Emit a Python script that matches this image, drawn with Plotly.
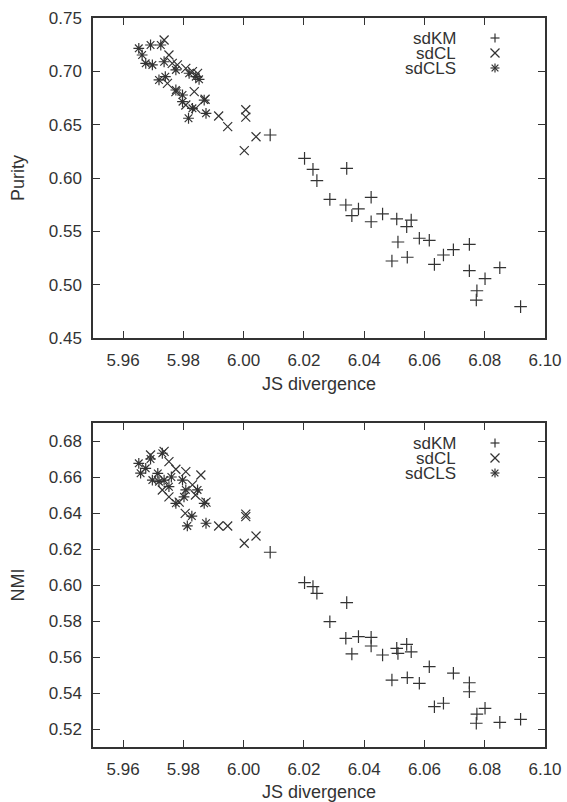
import plotly.graph_objects as go

# ---------------- data ----------------
km_js = [6.0088, 6.0202, 6.0230, 6.0243, 6.0342, 6.0286, 6.0339, 6.0381, 6.0359, 6.0423,
         6.0461, 6.0423, 6.0508, 6.0512, 6.0556, 6.0541, 6.0583, 6.0616, 6.0492, 6.0543,
         6.0633, 6.0663, 6.0696, 6.0749, 6.0749, 6.0801, 6.0850, 6.0774, 6.0772, 6.0919]
km_purity = [0.6403, 0.6184, 0.6081, 0.5975, 0.6090, 0.5800, 0.5747, 0.5710, 0.5647, 0.5819,
             0.5663, 0.5590, 0.5616, 0.5400, 0.5606, 0.5544, 0.5435, 0.5416, 0.5222, 0.5257,
             0.5190, 0.5278, 0.5328, 0.5378, 0.5131, 0.5056, 0.5159, 0.4943, 0.4856, 0.4794]
km_nmi = [0.6182, 0.6013, 0.5991, 0.5954, 0.5902, 0.5796, 0.5704, 0.5713, 0.5617, 0.5709,
          0.5611, 0.5661, 0.5648, 0.5620, 0.5629, 0.5670, 0.5454, 0.5546, 0.5472, 0.5485,
          0.5324, 0.5343, 0.5510, 0.5457, 0.5407, 0.5315, 0.5237, 0.5283, 0.5232, 0.5254]

cl_js_p = [5.9736, 5.9752, 5.9763, 5.9780, 5.9808, 5.9830, 5.9847, 5.9747, 5.9775, 5.9836,
           5.9808, 5.9841, 5.9872, 5.9917, 5.9947, 6.0041, 6.0002, 6.0007, 6.0007]
cl_purity = [0.7294, 0.7153, 0.7075, 0.7060, 0.7028, 0.6997, 0.6981, 0.6887, 0.6810, 0.6810,
             0.6684, 0.6653, 0.6738, 0.6581, 0.6481, 0.6387, 0.6256, 0.6640, 0.6570]

cls_js_p = [5.9652, 5.9691, 5.9725, 5.9663, 5.9675, 5.9697, 5.9736, 5.9775, 5.9819, 5.9841,
            5.9852, 5.9719, 5.9740, 5.9775, 5.9797, 5.9797, 5.9830, 5.9869, 5.9817, 5.9875]
cls_purity = [0.7216, 0.7247, 0.7247, 0.7153, 0.7075, 0.7060, 0.7090, 0.7013, 0.6982, 0.6950,
              0.6925, 0.6919, 0.6950, 0.6825, 0.6778, 0.6716, 0.6653, 0.6731, 0.6560, 0.6606]

cl_js_n = [5.9691, 5.9736, 5.9752, 5.9775, 5.9808, 5.9858, 5.9730, 5.9752, 5.9830, 5.9786,
           5.9806, 5.9875, 5.9917, 5.9947, 6.0041, 6.0002, 6.0007, 6.0007, 5.9840]
cl_nmi = [0.6722, 0.6742, 0.6685, 0.6643, 0.6630, 0.6611, 0.6528, 0.6490, 0.6556, 0.6460,
          0.6398, 0.6460, 0.6328, 0.6328, 0.6272, 0.6232, 0.6394, 0.6380, 0.6500]

cls_js_n = [5.9652, 5.9658, 5.9691, 5.9730, 5.9675, 5.9697, 5.9719, 5.9736, 5.9752, 5.9797,
            5.9808, 5.9775, 5.9847, 5.9802, 5.9869, 5.9828, 5.9813, 5.9875, 5.9715, 5.9760]
cls_nmi = [0.6676, 0.6621, 0.6700, 0.6732, 0.6648, 0.6583, 0.6574, 0.6583, 0.6546, 0.6583,
           0.6528, 0.6454, 0.6528, 0.6490, 0.6454, 0.6383, 0.6328, 0.6343, 0.6620, 0.6600]

series_names = ["sdKM", "sdCL", "sdCLS"]
x_ticks = [5.96, 5.98, 6.00, 6.02, 6.04, 6.06, 6.08, 6.10]

# ---------------- style ----------------
W, H = 567, 802
INK = "#333333"
FONT = "Liberation Sans, Arial, sans-serif"
symbols = ["cross-thin-open", "x-thin-open", "asterisk-open"]
msize = 9

fig = go.Figure()

def add(x, y, k, xa, ya):
    fig.add_trace(go.Scatter(
        x=x, y=y, mode="markers", name=series_names[k], showlegend=False,
        xaxis=xa, yaxis=ya, hoverinfo="skip",
        marker=dict(symbol=symbols[k], size=msize, color=INK,
                    line=dict(color=INK, width=1.2))))

add(km_js, km_purity, 0, "x", "y")
add(cl_js_p, cl_purity, 1, "x", "y")
add(cls_js_p, cls_purity, 2, "x", "y")
add(km_js, km_nmi, 0, "x2", "y2")
add(cl_js_n, cl_nmi, 1, "x2", "y2")
add(cls_js_n, cls_nmi, 2, "x2", "y2")

x0, x1 = 93 / W, 545 / W
top_dom = [(H - 338) / H, (H - 18) / H]
bot_dom = [(H - 747) / H, (H - 423) / H]

common = dict(showline=True, linecolor=INK, linewidth=1.5, mirror="allticks",
              ticks="inside", ticklen=7, tickwidth=1.3, tickcolor=INK,
              showgrid=False, zeroline=False, automargin=False,
              tickfont=dict(family=FONT, size=17, color=INK))

xcommon = dict(common, range=[5.95, 6.10], tickvals=x_ticks, tickformat=".2f",
               domain=[x0, x1], ticklabelstandoff=6,
               title=dict(text="JS divergence", font=dict(family=FONT, size=18, color=INK),
                          standoff=8))

fig.update_layout(
    width=W, height=H, margin=dict(l=0, r=0, t=0, b=0),
    paper_bgcolor="white", plot_bgcolor="white",
    xaxis=dict(xcommon, anchor="y"),
    yaxis=dict(common, domain=top_dom, range=[0.45, 0.75], dtick=0.05, tickformat=".2f",
               anchor="x", ticklabelstandoff=6,
               title=dict(text="Purity", font=dict(family=FONT, size=18, color=INK), standoff=19)),
    xaxis2=dict(xcommon, anchor="y2"),
    yaxis2=dict(common, domain=bot_dom, range=[0.51, 0.69], dtick=0.02, tickformat=".2f",
                anchor="x2", ticklabelstandoff=6,
                title=dict(text="NMI", font=dict(family=FONT, size=18, color=INK), standoff=19)),
)

# gnuplot-style key: label right-aligned, sample symbol (drawn as line shapes) to its right
key_arms = [
    [(-1, 0, 1, 0), (0, -1, 0, 1)],                                   # +
    [(-1, -1, 1, 1), (-1, 1, 1, -1)],                                 # x
    [(-1, 0, 1, 0), (0, -1, 0, 1), (-0.75, -0.75, 0.75, 0.75), (-0.75, 0.75, 0.75, -0.75)],  # *
]
half = 4.5
kx = 495
for top in (True, False):
    for i, name in enumerate(series_names):
        ypix = (38 if top else 443) + 15 * i
        fig.add_annotation(xref="paper", yref="paper", x=458 / W, y=(H - ypix) / H, text=name,
                           showarrow=False, xanchor="right", yanchor="middle", height=14,
                           font=dict(family=FONT, size=17, color=INK))
        for (ax0, ay0, ax1, ay1) in key_arms[i]:
            fig.add_shape(type="line", xref="paper", yref="paper",
                          x0=(kx + ax0 * half) / W, y0=(H - (ypix + ay0 * half)) / H,
                          x1=(kx + ax1 * half) / W, y1=(H - (ypix + ay1 * half)) / H,
                          line=dict(color=INK, width=1.2))

fig.write_html("out.html", config={"displayModeBar": False},
               post_script="document.body.style.margin='0';document.body.style.overflow='hidden';")
